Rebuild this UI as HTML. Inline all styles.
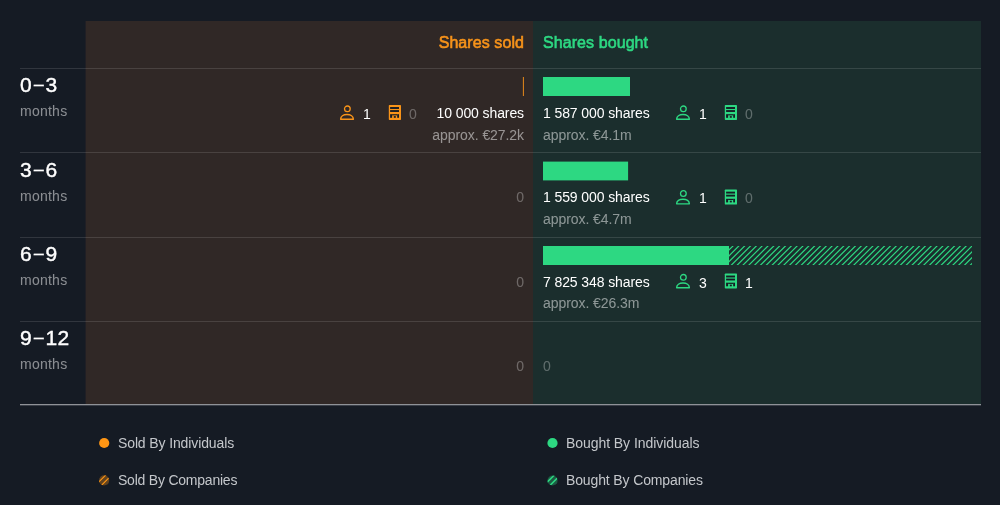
<!DOCTYPE html>
<html><head><meta charset="utf-8">
<style>
*{margin:0;padding:0;box-sizing:border-box}
html,body{width:1000px;height:505px;background:#151b24;overflow:hidden}
body{position:relative;font-family:"Liberation Sans",sans-serif;color:#fff}
.abs{position:absolute;white-space:nowrap}
.sold{left:86px;top:21px;width:447px;height:384px;background:#302826;box-shadow:-1px 0 0 #201f25}
.bought{left:533px;top:21px;width:448px;height:384px;background:#1b2e2d}
.hl{left:20px;width:961px;height:1px;background:rgba(255,255,255,0.12)}
.bl{left:20px;width:961px;height:2px;top:404px;background:linear-gradient(#8f9297 0 50%,#3b4049 50% 100%)}
.hd{font-size:16px;font-weight:normal;line-height:20px;top:33px;-webkit-text-stroke:.6px currentColor;letter-spacing:.08px}
.per{left:20px;font-size:21px;line-height:24px;font-weight:normal;-webkit-text-stroke:.4px #fff;letter-spacing:.5px}
.per i{display:inline-block;font-style:normal;transform:scaleX(.86);-webkit-text-stroke:.15px #fff;margin:0 .5px;position:relative;top:-1px}
.mo{left:20px;font-size:14px;line-height:18px;color:rgba(255,255,255,.5);letter-spacing:.25px}
.t{font-size:14px;line-height:18px;color:#fff;letter-spacing:-.1px}
.g{font-size:14px;line-height:18px;color:rgba(255,255,255,.5);letter-spacing:-.07px}
.z{font-size:14px;line-height:18px;color:rgba(255,255,255,.3)}
.r{text-align:right}
.lg{font-size:14px;line-height:18px;color:#c4c7cb}
</style></head><body><div id="wrap" style="position:absolute;left:0;top:0;width:1000px;height:505px;will-change:transform">
<div class="abs sold"></div>
<div class="abs bought"></div>
<div class="abs hl" style="top:68px"></div>
<div class="abs hl" style="top:152px"></div>
<div class="abs hl" style="top:237px"></div>
<div class="abs hl" style="top:321px"></div>
<div class="abs bl"></div>

<div class="abs hd r" style="right:476px;color:#f7931a">Shares sold</div>
<div class="abs hd" style="left:543px;color:#2dd882">Shares bought</div>

<div class="abs per" style="top:73px">0<i>–</i>3</div><div class="abs mo" style="top:102px">months</div>
<div class="abs per" style="top:158px">3<i>–</i>6</div><div class="abs mo" style="top:187px">months</div>
<div class="abs per" style="top:242px">6<i>–</i>9</div><div class="abs mo" style="top:271px">months</div>
<div class="abs per" style="top:326px">9<i>–</i>12</div><div class="abs mo" style="top:355px">months</div>

<svg class="abs" style="left:0;top:0" width="1000" height="505" viewBox="0 0 1000 505">
<defs><clipPath id="hc"><rect x="729" y="246" width="243" height="19"/></clipPath></defs>
<rect x="522.9" y="77" width="0.9" height="19" fill="#f99419"/>
<rect x="543" y="77" width="87" height="19" fill="#2dd882"/>
<rect x="543" y="161.6" width="85.1" height="18.8" fill="#2dd882"/>
<rect x="543" y="246" width="186" height="19" fill="#2dd882"/>
<path clip-path="url(#hc)" d="M706.14 267L729.14 244M711.97 267L734.97 244M717.80 267L740.80 244M723.63 267L746.63 244M729.46 267L752.46 244M735.29 267L758.29 244M741.12 267L764.12 244M746.95 267L769.95 244M752.78 267L775.78 244M758.61 267L781.61 244M764.44 267L787.44 244M770.27 267L793.27 244M776.10 267L799.10 244M781.93 267L804.93 244M787.76 267L810.76 244M793.59 267L816.59 244M799.42 267L822.42 244M805.25 267L828.25 244M811.08 267L834.08 244M816.91 267L839.91 244M822.74 267L845.74 244M828.57 267L851.57 244M834.40 267L857.40 244M840.23 267L863.23 244M846.06 267L869.06 244M851.89 267L874.89 244M857.72 267L880.72 244M863.55 267L886.55 244M869.38 267L892.38 244M875.21 267L898.21 244M881.04 267L904.04 244M886.87 267L909.87 244M892.70 267L915.70 244M898.53 267L921.53 244M904.36 267L927.36 244M910.19 267L933.19 244M916.02 267L939.02 244M921.85 267L944.85 244M927.68 267L950.68 244M933.51 267L956.51 244M939.34 267L962.34 244M945.17 267L968.17 244M951.00 267L974.00 244M956.83 267L979.83 244M962.66 267L985.66 244M968.49 267L991.49 244" stroke="#2dd882" stroke-width="1.2" fill="none"/>
<g transform="translate(339.8 105)" fill="none" stroke="#f99419" stroke-width="1.45" stroke-linejoin="round"><circle cx="7.55" cy="3.85" r="2.85" stroke-width="1.3"/><path d="M0.85 14.25C0.85 11.4 3.6 9.55 7.2 9.55C10.8 9.55 13.55 11.4 13.55 14.25Z"/></g><g transform="translate(388.8 105)"><rect width="12.2" height="15" rx="0.7" fill="#f99419"/><g fill="#151b24"><rect x="1.3" y="2.05" width="8.9" height="1.9"/><rect x="1.3" y="5.1" width="8.9" height="1.85"/><rect x="1.3" y="9.2" width="2" height="3.6"/><rect x="8.4" y="9.2" width="1.8" height="3.6"/><rect x="3.3" y="9.2" width="5.1" height="1.2"/><rect x="5" y="11.1" width="2" height="1.7"/></g></g><g transform="translate(675.8 105)" fill="none" stroke="#2dd882" stroke-width="1.45" stroke-linejoin="round"><circle cx="7.55" cy="3.85" r="2.85" stroke-width="1.3"/><path d="M0.85 14.25C0.85 11.4 3.6 9.55 7.2 9.55C10.8 9.55 13.55 11.4 13.55 14.25Z"/></g><g transform="translate(724.8 105)"><rect width="12.2" height="15" rx="0.7" fill="#2dd882"/><g fill="#151b24"><rect x="1.3" y="2.05" width="8.9" height="1.9"/><rect x="1.3" y="5.1" width="8.9" height="1.85"/><rect x="1.3" y="9.2" width="2" height="3.6"/><rect x="8.4" y="9.2" width="1.8" height="3.6"/><rect x="3.3" y="9.2" width="5.1" height="1.2"/><rect x="5" y="11.1" width="2" height="1.7"/></g></g><g transform="translate(675.8 189.6)" fill="none" stroke="#2dd882" stroke-width="1.45" stroke-linejoin="round"><circle cx="7.55" cy="3.85" r="2.85" stroke-width="1.3"/><path d="M0.85 14.25C0.85 11.4 3.6 9.55 7.2 9.55C10.8 9.55 13.55 11.4 13.55 14.25Z"/></g><g transform="translate(724.8 189.6)"><rect width="12.2" height="15" rx="0.7" fill="#2dd882"/><g fill="#151b24"><rect x="1.3" y="2.05" width="8.9" height="1.9"/><rect x="1.3" y="5.1" width="8.9" height="1.85"/><rect x="1.3" y="9.2" width="2" height="3.6"/><rect x="8.4" y="9.2" width="1.8" height="3.6"/><rect x="3.3" y="9.2" width="5.1" height="1.2"/><rect x="5" y="11.1" width="2" height="1.7"/></g></g><g transform="translate(675.8 273.5)" fill="none" stroke="#2dd882" stroke-width="1.45" stroke-linejoin="round"><circle cx="7.55" cy="3.85" r="2.85" stroke-width="1.3"/><path d="M0.85 14.25C0.85 11.4 3.6 9.55 7.2 9.55C10.8 9.55 13.55 11.4 13.55 14.25Z"/></g><g transform="translate(724.8 273.5)"><rect width="12.2" height="15" rx="0.7" fill="#2dd882"/><g fill="#151b24"><rect x="1.3" y="2.05" width="8.9" height="1.9"/><rect x="1.3" y="5.1" width="8.9" height="1.85"/><rect x="1.3" y="9.2" width="2" height="3.6"/><rect x="8.4" y="9.2" width="1.8" height="3.6"/><rect x="3.3" y="9.2" width="5.1" height="1.2"/><rect x="5" y="11.1" width="2" height="1.7"/></g></g><circle cx="104.2" cy="443" r="5.1" fill="#ff9614"/><circle cx="552.5" cy="443" r="5.1" fill="#2dd882"/><clipPath id="c1"><circle cx="104.1" cy="480.4" r="5.1"/></clipPath><circle cx="104.1" cy="480.4" r="5.1" fill="#ff9614" fill-opacity="0.33"/><path clip-path="url(#c1)" d="M86.40 488.4L102.40 472.4M92.40 488.4L108.40 472.4M98.40 488.4L114.40 472.4M104.40 488.4L120.40 472.4" stroke="#ff9614" stroke-width="1.15" fill="none"/><clipPath id="c2"><circle cx="552.5" cy="480.5" r="5.1"/></clipPath><circle cx="552.5" cy="480.5" r="5.1" fill="#2dd882" fill-opacity="0.33"/><path clip-path="url(#c2)" d="M534.90 488.5L550.90 472.5M540.90 488.5L556.90 472.5M546.90 488.5L562.90 472.5M552.90 488.5L568.90 472.5" stroke="#2dd882" stroke-width="1.5" fill="none"/>
</svg>
<!-- row 1 -->
<div class="abs t r" style="right:476px;top:104px">10 000 shares</div>
<div class="abs g r" style="right:476px;top:126px">approx. €27.2k</div>
<div class="abs t" style="left:543px;top:104px">1 587 000 shares</div>
<div class="abs g" style="left:543px;top:126px">approx. €4.1m</div>
<div class="abs t" style="left:363px;top:105px">1</div>
<div class="abs z" style="left:409px;top:105px">0</div>
<div class="abs t" style="left:699px;top:105px">1</div>
<div class="abs z" style="left:745px;top:105px">0</div>

<!-- row 2 -->
<div class="abs z r" style="right:476px;top:188px">0</div>
<div class="abs t" style="left:543px;top:188px">1 559 000 shares</div>
<div class="abs g" style="left:543px;top:210px">approx. €4.7m</div>
<div class="abs t" style="left:699px;top:189px">1</div>
<div class="abs z" style="left:745px;top:189px">0</div>

<!-- row 3 -->
<div class="abs z r" style="right:476px;top:273px">0</div>
<div class="abs t" style="left:543px;top:273px">7 825 348 shares</div>
<div class="abs g" style="left:543px;top:294px">approx. €26.3m</div>
<div class="abs t" style="left:699px;top:274px">3</div>
<div class="abs t" style="left:745px;top:274px">1</div>

<!-- row 4 -->
<div class="abs z r" style="right:476px;top:357px">0</div>
<div class="abs z" style="left:543px;top:357px">0</div>


<!-- legend -->
<div class="abs lg" style="left:118px;top:434px;letter-spacing:-.12px">Sold By Individuals</div>
<div class="abs lg" style="left:118px;top:471px;letter-spacing:-.22px">Sold By Companies</div>
<div class="abs lg" style="left:566px;top:434px;letter-spacing:-.06px">Bought By Individuals</div>
<div class="abs lg" style="left:566px;top:471px;letter-spacing:-.13px">Bought By Companies</div>
</div></body></html>
